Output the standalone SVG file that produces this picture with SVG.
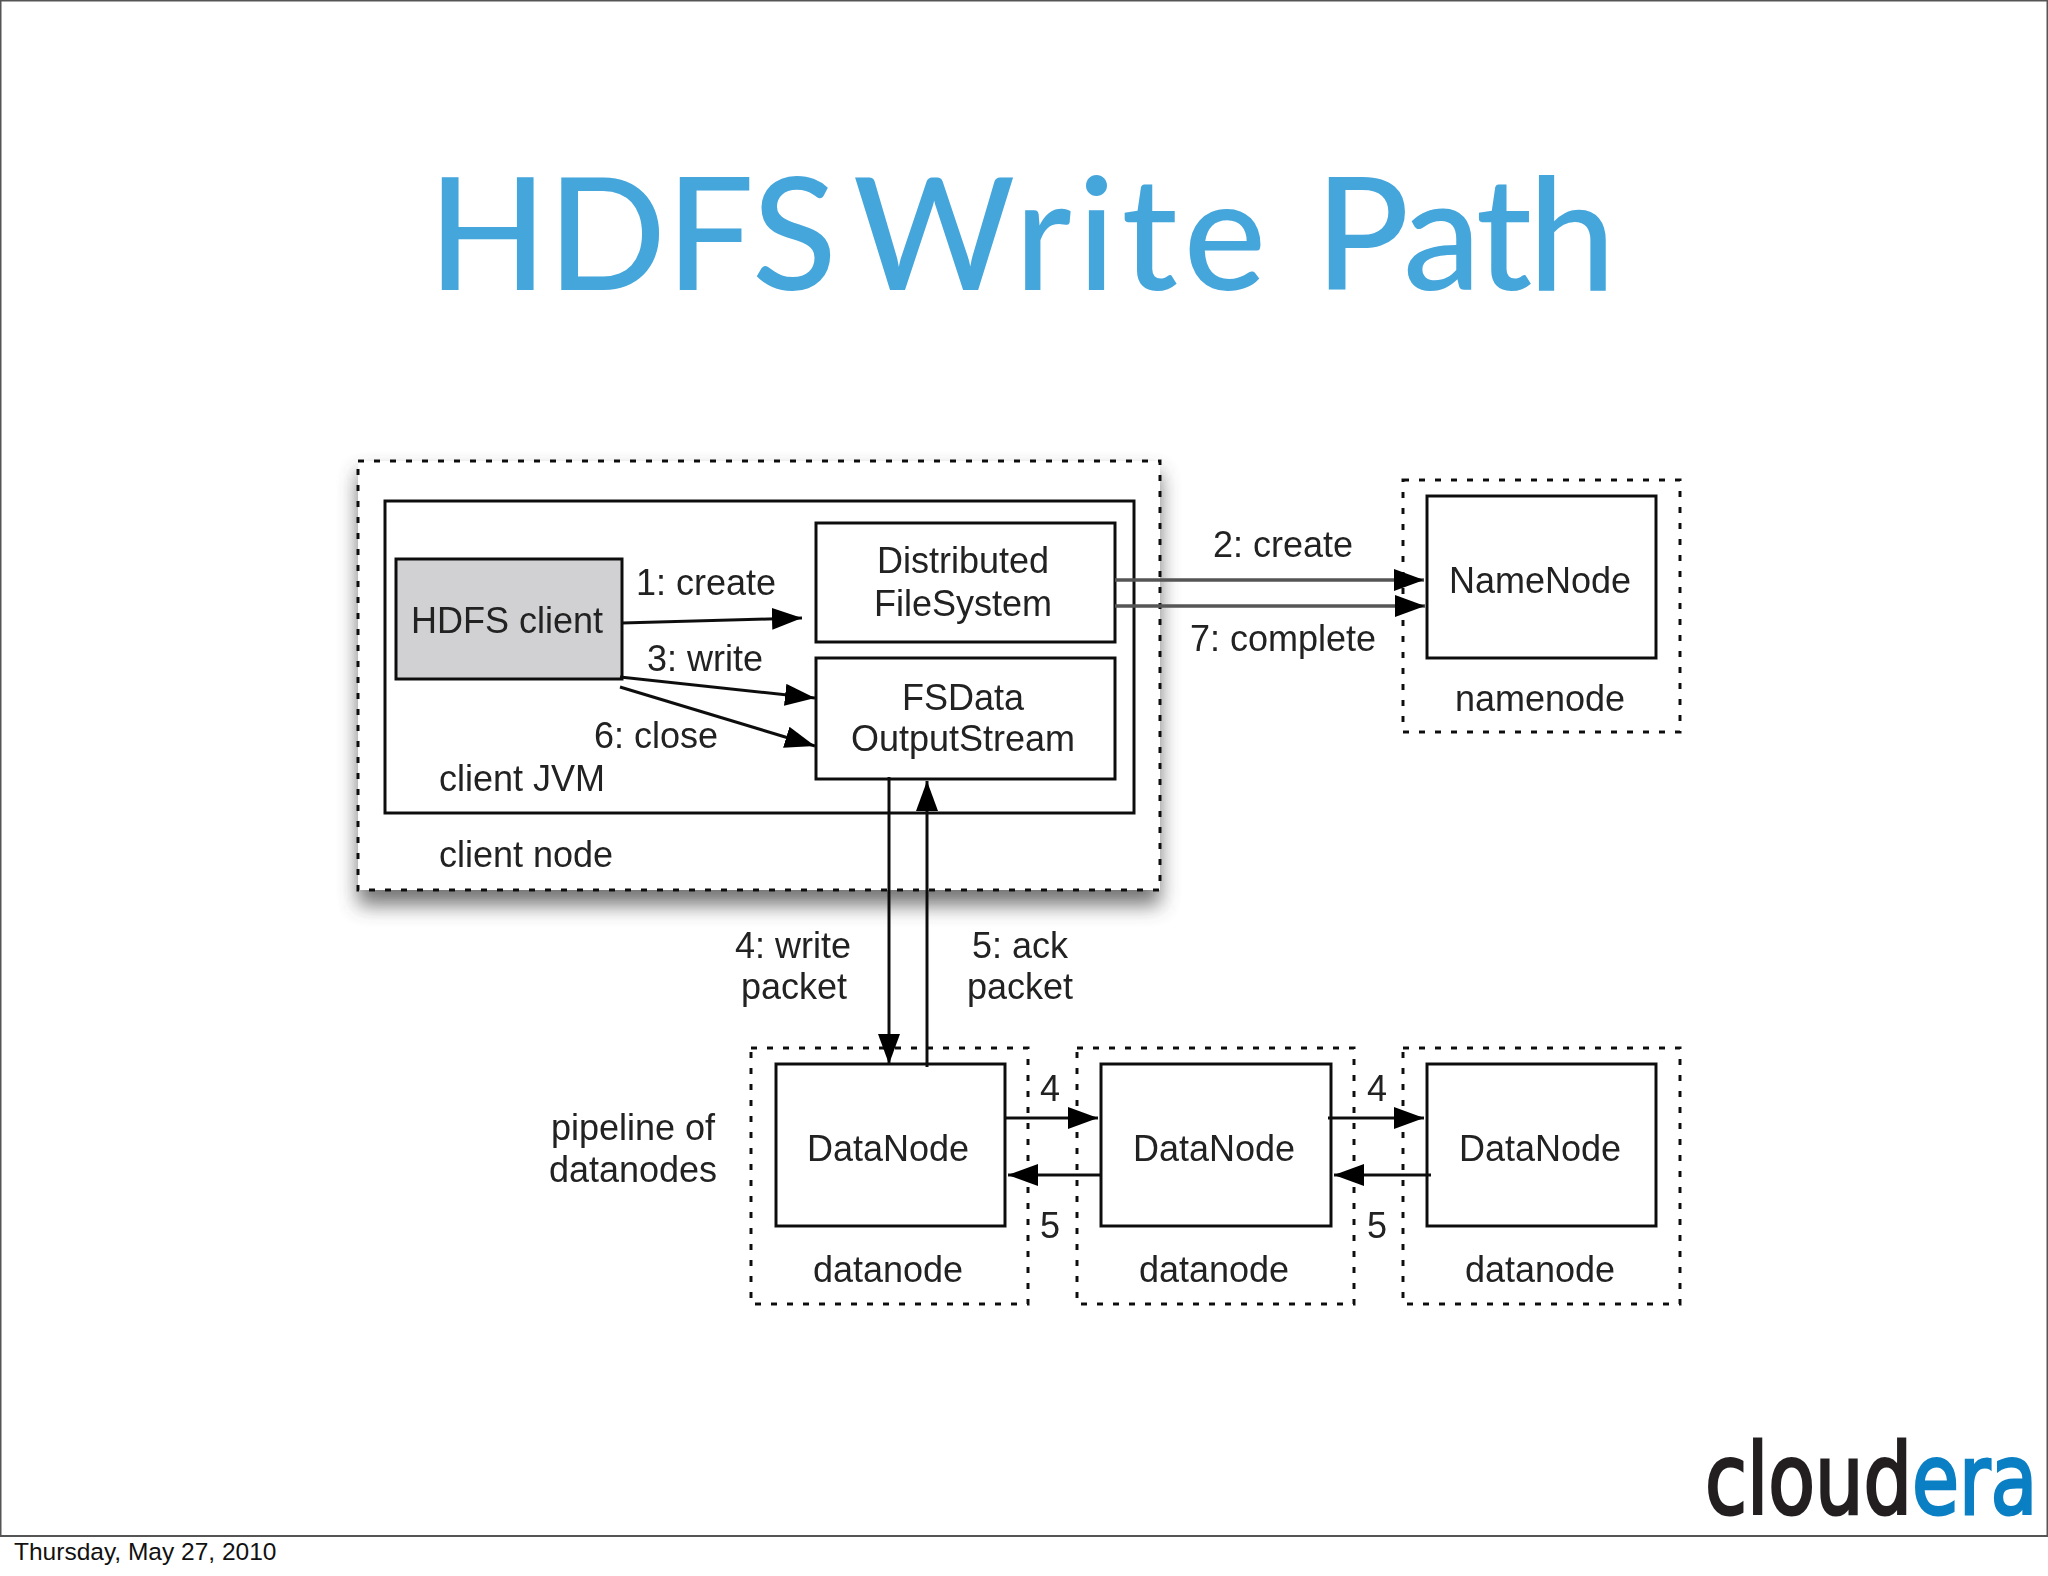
<svg xmlns="http://www.w3.org/2000/svg" width="2048" height="1576" viewBox="0 0 2048 1576">
<style>
.t{font-family:"Liberation Sans",Arial,sans-serif;font-size:36px;fill:#222;text-anchor:middle}
.s{text-anchor:start}
.box{fill:#fff;stroke:#111;stroke-width:3}
.dash{fill:none;stroke:#111;stroke-width:3;stroke-dasharray:6 10}
.c{fill:none;stroke:#111;stroke-width:3;marker-end:url(#ah)}
.g{fill:none;stroke:#555;stroke-width:3.5;marker-end:url(#ah)}
</style>
<defs>
<marker id="ah" markerUnits="userSpaceOnUse" markerWidth="31" markerHeight="24" refX="30" refY="11" orient="auto"><path d="M0 0L30 11L0 22Z" fill="#000"/></marker>
<filter id="soft" x="-5%" y="-5%" width="110%" height="110%"><feGaussianBlur stdDeviation="0.6"/></filter>
<filter id="sh" x="-10%" y="-10%" width="120%" height="125%"><feGaussianBlur stdDeviation="10"/></filter>
</defs>
<rect width="2048" height="1576" fill="#fff"/>
<rect x="0.5" y="0.5" width="2047" height="1535.5" fill="#fff" stroke="#555" stroke-width="2"/>
<text id="title" y="290" font-family="Lato,'Liberation Sans',sans-serif" font-weight="500" font-size="156" fill="#45a6dc"><tspan x="428">HDFS </tspan><tspan x="853" letter-spacing="6">Write </tspan><tspan x="1315" letter-spacing="-4">Path</tspan></text>
<g transform="translate(0,1)">
<rect id="shadow" x="358" y="472" width="802" height="432" fill="#444" opacity="0.75" filter="url(#sh)"/>
<g filter="url(#soft)">
<g id="client-node"><rect x="358" y="460" width="802" height="429" fill="#fff"/><rect class="dash" x="358" y="460" width="802" height="429"/><text class="t s" x="439" y="866">client node</text></g>
<g id="client-jvm"><rect class="box" x="385" y="500" width="749" height="312" stroke-width="3.5"/><text class="t s" x="439" y="790">client JVM</text></g>
<g id="hdfs-client"><rect x="396" y="558" width="226" height="120" fill="#d1d1d3" stroke="#111" stroke-width="3"/><text class="t" x="507" y="632">HDFS client</text></g>
<g id="dfs"><rect class="box" x="816" y="522" width="299" height="119"/><text class="t" x="963" y="572">Distributed</text><text class="t" x="963" y="615">FileSystem</text></g>
<g id="fsdata"><rect class="box" x="816" y="657" width="299" height="121"/><text class="t" x="963" y="709">FSData</text><text class="t" x="963" y="750">OutputStream</text></g>
<g id="namenode"><rect class="dash" x="1403" y="479" width="277" height="252"/><rect class="box" x="1427" y="495" width="229" height="162"/><text class="t" x="1540" y="592">NameNode</text><text class="t" x="1540" y="710">namenode</text></g>
<g id="datanode1"><rect class="dash" x="751" y="1047" width="277" height="256"/><rect class="box" x="776" y="1063" width="229" height="162"/><text class="t" x="888" y="1160">DataNode</text><text class="t" x="888" y="1281">datanode</text></g>
<g id="datanode2"><rect class="dash" x="1077" y="1047" width="277" height="256"/><rect class="box" x="1101" y="1063" width="230" height="162"/><text class="t" x="1214" y="1160">DataNode</text><text class="t" x="1214" y="1281">datanode</text></g>
<g id="datanode3"><rect class="dash" x="1403" y="1047" width="277" height="256"/><rect class="box" x="1427" y="1063" width="229" height="162"/><text class="t" x="1540" y="1160">DataNode</text><text class="t" x="1540" y="1281">datanode</text></g>
<g id="connectors">
<line class="c" x1="622" y1="622" x2="802" y2="617"/>
<line class="c" x1="620" y1="676" x2="815" y2="697"/>
<line class="c" x1="620" y1="686" x2="815" y2="745"/>
<line class="g" x1="1115" y1="579" x2="1424" y2="579"/>
<line class="g" x1="1115" y1="605" x2="1425" y2="605"/>
<line class="c" x1="889" y1="776" x2="889" y2="1063"/>
<line class="c" x1="927" y1="1066" x2="927" y2="780"/>
<line class="c" x1="1005" y1="1117" x2="1098" y2="1117"/>
<line class="c" x1="1328" y1="1117" x2="1424" y2="1117"/>
<line class="c" x1="1102" y1="1174" x2="1008" y2="1174"/>
<line class="c" x1="1431" y1="1174" x2="1334" y2="1174"/>
</g>
<g id="labels">
<text class="t" x="706" y="594">1: create</text>
<text class="t" x="705" y="670">3: write</text>
<text class="t" x="656" y="747">6: close</text>
<text class="t" x="1283" y="556">2: create</text>
<text class="t" x="1283" y="650">7: complete</text>
<text class="t" x="793" y="957">4: write</text>
<text class="t" x="794" y="998">packet</text>
<text class="t" x="1020" y="957">5: ack</text>
<text class="t" x="1020" y="998">packet</text>
<text class="t" x="633" y="1139">pipeline of</text>
<text class="t" x="633" y="1181">datanodes</text>
<text class="t" x="1050" y="1100">4</text>
<text class="t" x="1377" y="1100">4</text>
<text class="t" x="1050" y="1237">5</text>
<text class="t" x="1377" y="1237">5</text>
</g>
</g>
</g>
<text id="logo" transform="translate(1705,1514) scale(.78,1)" font-family="'DejaVu Sans',sans-serif" font-size="98" stroke-width="3"><tspan fill="#231f20" stroke="#231f20">cloud</tspan><tspan fill="#0a7fc4" stroke="#0a7fc4">era</tspan></text>
<text id="date" x="14" y="1560" font-family="'Liberation Sans',Arial,sans-serif" font-size="24.5" fill="#111">Thursday, May 27, 2010</text>
</svg>
